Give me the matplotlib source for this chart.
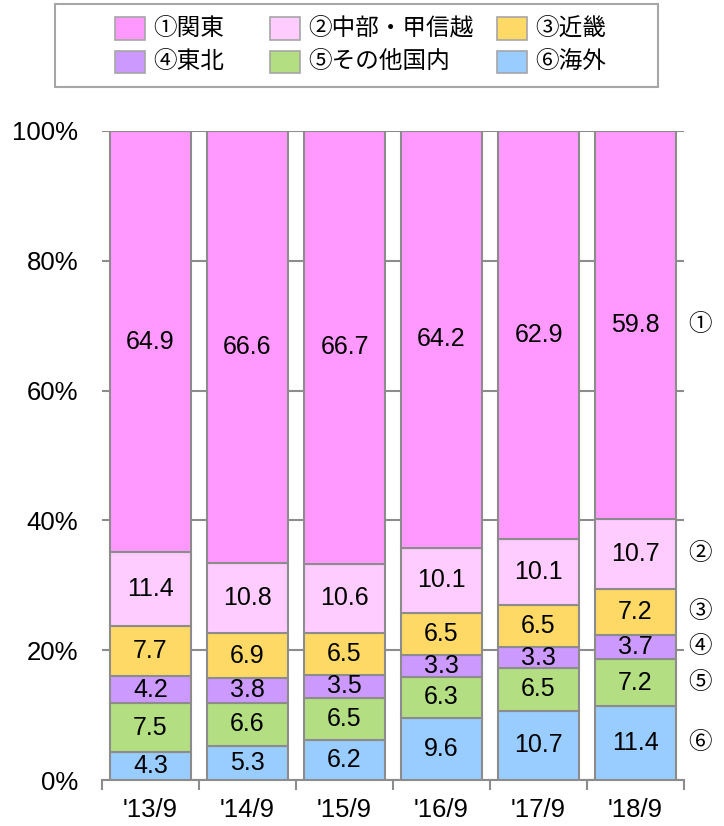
import matplotlib
matplotlib.use("Agg")
import matplotlib.pyplot as plt
from matplotlib.patches import Rectangle
import numpy as np

plt.rcParams['font.family'] = ['Liberation Sans', 'Noto Sans CJK JP', 'DejaVu Sans']

categories = ["'13/9", "'14/9", "'15/9", "'16/9", "'17/9", "'18/9"]
series_names = ["①関東", "②中部・甲信越", "③近畿", "④東北", "⑤その他国内", "⑥海外"]
kanto   = [64.9, 66.6, 66.7, 64.2, 62.9, 59.8]
chubu   = [11.4, 10.8, 10.6, 10.1, 10.1, 10.7]
kinki   = [7.7, 6.9, 6.5, 6.5, 6.5, 7.2]
tohoku  = [4.2, 3.8, 3.5, 3.3, 3.3, 3.7]
other   = [7.5, 6.6, 6.5, 6.3, 6.5, 7.2]
kaigai  = [4.3, 5.3, 6.2, 9.6, 10.7, 11.4]
yticks = [0, 20, 40, 60, 80, 100]
ytick_labels = ["0%", "20%", "40%", "60%", "80%", "100%"]

colors = {
    "①関東": "#FF99FF",
    "②中部・甲信越": "#FFCCFF",
    "③近畿": "#FFD966",
    "④東北": "#CC99FF",
    "⑤その他国内": "#B3DE81",
    "⑥海外": "#99CCFF",
}
edge = "#8C8C8C"

# stacking order bottom -> top
stack = [("⑥海外", kaigai), ("⑤その他国内", other), ("④東北", tohoku),
         ("③近畿", kinki), ("②中部・甲信越", chubu), ("①関東", kanto)]
marks = {"⑥海外": "⑥", "⑤その他国内": "⑤", "④東北": "④",
         "③近畿": "③", "②中部・甲信越": "②", "①関東": "①"}

fig = plt.figure(figsize=(7.24, 8.26), dpi=100)
ax = fig.add_axes([102/724, 46/826, 582/724, 649/826])

x = np.arange(len(categories))
bottom = np.zeros(len(categories))
mids_last = {}
for name, vals in stack:
    vals = np.array(vals, dtype=float)
    ax.bar(x, vals, bottom=bottom, width=0.83, color=colors[name],
           edgecolor=edge, linewidth=1.5, zorder=3)
    for xi, b, v in zip(x, bottom, vals):
        ax.text(xi, b + v / 2, f"{v:.1f}", ha="center", va="center",
                fontsize=18, color="black", zorder=4)
    mids_last[name] = bottom[-1] + vals[-1] / 2
    bottom = bottom + vals

ax.set_xlim(-0.5, len(categories) - 0.5)
ax.set_ylim(0, 100)
ax.set_yticks(yticks)
ax.set_yticklabels(ytick_labels, fontsize=18.5)
ax.tick_params(axis="y", length=0, pad=17)
ax.yaxis.grid(True, color=edge, linewidth=1.5, zorder=0)
ax.set_axisbelow(True)

ax.set_xticks(x)
ax.set_xticklabels(categories, fontsize=18.5)
ax.tick_params(axis="x", which="major", length=0, pad=13)
ax.set_xticks(np.arange(-0.5, len(categories), 1.0), minor=True)
ax.tick_params(axis="x", which="minor", length=7, width=1.5, color=edge, direction="out")

for s in ["top", "right", "left"]:
    ax.spines[s].set_visible(False)
ax.spines["bottom"].set_color(edge)
ax.spines["bottom"].set_linewidth(1.5)

# right-side markers
for name, _ in stack:
    ax.text(1.027, mids_last[name], marks[name], transform=ax.get_yaxis_transform(),
            ha="center", va="center", fontsize=17)

# legend drawn in figure coordinates
W, H = 724, 826
def fx(px): return px / W
def fy(py): return 1 - py / H

fig.patches.append(Rectangle((fx(55), fy(87)), fx(658) - fx(55), fy(4) - fy(87),
                             transform=fig.transFigure, facecolor="white",
                             edgecolor="#A6A6A6", linewidth=1.5))
col_x = [115, 270, 497]
row_y = [28.5, 61.5]
order = [["①関東", "②中部・甲信越", "③近畿"], ["④東北", "⑤その他国内", "⑥海外"]]
for r, row in enumerate(order):
    for c, name in enumerate(row):
        sx = col_x[c]
        sy = row_y[r]
        fig.patches.append(Rectangle((fx(sx), fy(sy + 11)), fx(30), 22 / H,
                                     transform=fig.transFigure,
                                     facecolor=colors[name], edgecolor="#A6A6A6",
                                     linewidth=1.2))
        fig.text(fx(sx + 38), fy(sy), name, ha="left", va="center", fontsize=17)

fig.savefig("out.png", dpi=100)
